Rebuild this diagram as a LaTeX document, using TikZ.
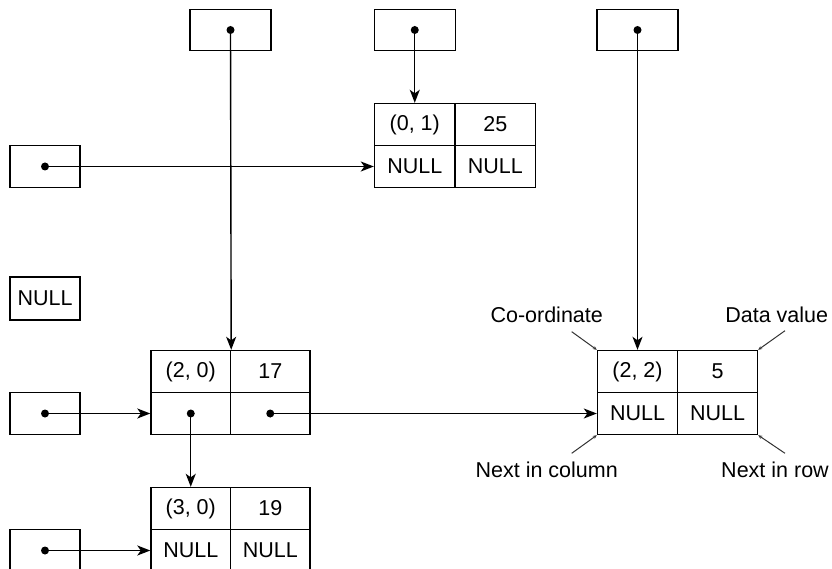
\documentclass[tikz,border=0pt]{standalone}
\usepackage{fontspec}
\setmainfont{Liberation Sans}
\usetikzlibrary{arrows.meta}
\begin{document}
\begin{tikzpicture}[x=1pt,y=-1pt,
  every node/.style={font=\fontsize{21.5}{25}\selectfont},
  cellbox/.style={draw, line width=1.4pt, minimum width=#1, minimum height=42pt, inner sep=0pt, anchor=center},
  cellbox/.default=80pt,
  headbox/.style={draw, line width=1.4pt, minimum width=81pt, minimum height=41.5pt, inner sep=0pt},
  rowbox/.style={draw, line width=1.4pt, minimum width=70pt, minimum height=42pt, inner sep=0pt},
  conn/.style={line width=1.4pt, -{Stealth[length=13pt,width=10pt,inset=3.5pt]}},
  pointer/.style={line width=1pt, black!80, -{Stealth[length=4pt,width=3.5pt]}},
  lbl/.style={inner sep=0pt},
  dotmark/.style={fill=black}
]
\useasboundingbox (0,0) rectangle (832,569);
\clip (0,0) rectangle (832,569);

% header (column) boxes
\node[headbox] (h1) at (230.5,30) {};
\node[headbox] (h2) at (414.75,30) {};
\node[headbox] (h3) at (637.5,30) {};

% row boxes
\node[rowbox] (r1) at (45,166.5) {};
\node[rowbox, minimum height=43pt] (rnull) at (45,298.5) {NULL};
\node[rowbox] (r2) at (45,413.5) {};
\node[rowbox] (r3) at (45,550.5) {};

% node (0,1)
\node[cellbox=80.5pt] (n01a) at (414.75,124.5) {(0, 1)};
\node[cellbox=80.5pt] (n01b) at (495.25,124.5) {25};
\node[cellbox=80.5pt] (n01c) at (414.75,166.5) {NULL};
\node[cellbox=80.5pt] (n01d) at (495.25,166.5) {NULL};

% node (2,0)
\node[cellbox=79.5pt] (n20a) at (190.75,371.5) {(2, 0)};
\node[cellbox=79.5pt] (n20b) at (270.25,371.5) {17};
\node[cellbox=79.5pt] (n20c) at (190.75,413.5) {};
\node[cellbox=79.5pt] (n20d) at (270.25,413.5) {};

% node (3,0)
\node[cellbox=79.5pt] (n30a) at (190.75,508.5) {(3, 0)};
\node[cellbox=79.5pt] (n30b) at (270.25,508.5) {19};
\node[cellbox=79.5pt] (n30c) at (190.75,550.5) {NULL};
\node[cellbox=79.5pt] (n30d) at (270.25,550.5) {NULL};

% node (2,2)
\node[cellbox] (n22a) at (637.5,371.5) {(2, 2)};
\node[cellbox] (n22b) at (717.5,371.5) {5};
\node[cellbox] (n22c) at (637.5,413.5) {NULL};
\node[cellbox] (n22d) at (717.5,413.5) {NULL};

% connectors
\draw[conn] (h1.center) -- (n20a.north east);
\draw[conn] (h2.center) -- (n01a.north);
\draw[conn] (h3.center) -- (n22a.north);
\draw[conn] (r1.center) -- (n01c.west);
\draw[conn] (r2.center) -- (n20c.west);
\draw[conn] (r3.center) -- (n30c.west);
\draw[conn] (n20c.center) -- (n30a.north);
\draw[conn] (n20d.center) -- (n22c.west);

% dots
\foreach \d in {h1,h2,h3,r1,r2,r3,n20c,n20d}
  \fill[dotmark] (\d.center) circle (4pt);

% labels
\node[lbl] (lco) at (546.7,315) {Co-ordinate};
\node[lbl] (ldv) at (776.7,315) {Data value};
\node[lbl] (lnc) at (546.7,470) {Next in column};
\node[lbl] (lnr) at (775,470) {Next in row};

\coordinate (pco) at (571.7,331.7);
\coordinate (pdv) at (785,330.7);
\coordinate (pnc) at (571.7,453.3);
\coordinate (pnr) at (785,453.3);

\draw[pointer] (pco) -- (n22a.north west);
\draw[pointer] (pdv) -- (n22b.north east);
\draw[pointer] (pnc) -- (n22c.south west);
\draw[pointer] (pnr) -- (n22d.south east);
\end{tikzpicture}
\end{document}
